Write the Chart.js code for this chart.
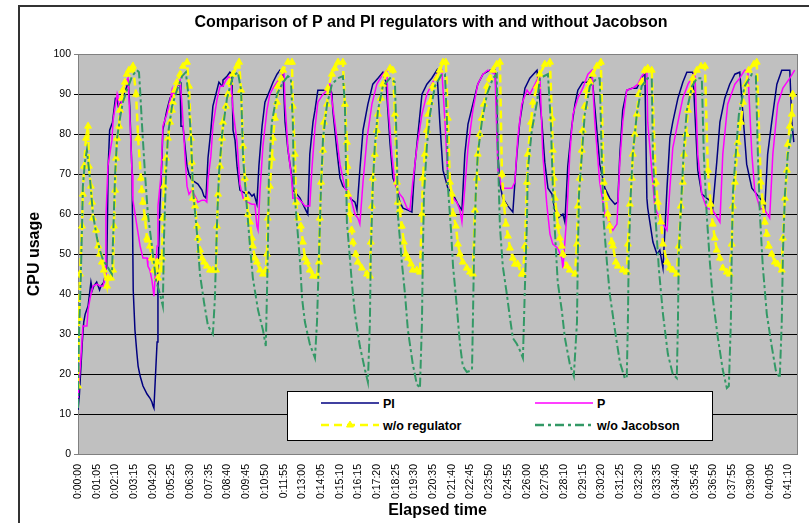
<!DOCTYPE html>
<html>
<head>
<meta charset="utf-8">
<script src="https://cdn.jsdelivr.net/npm/chart.js@4.4.1/dist/chart.umd.min.js"></script>
<style>
  html, body { margin: 0; padding: 0; background: #fff; overflow: hidden; }
  #wrap { position: relative; width: 809px; height: 523px; overflow: hidden; }
  #chart { position: absolute; left: 0; top: 0; }
  #legend { position: absolute; left: 287px; top: 391px; }
</style>
</head>
<body>
<div id="wrap">
  <canvas id="chart" width="842" height="523" style="width:842px;height:523px"></canvas>
  <svg id="legend" width="427" height="51" xmlns="http://www.w3.org/2000/svg"></svg>
</div>
<script>
const FONT = '"Liberation Sans", Arial, sans-serif';
const chartTitle = 'Comparison of P and PI regulators with and without Jacobson';
const xTitle = 'Elapsed time';
const yTitle = 'CPU usage';
const seriesNames = ['PI', 'P', 'w/o regulator', 'w/o Jacobson'];

// tick labels along the time axis, one every 65 s
const TICK_STEP = 65;
const tickLabels = ['0:00:00','0:01:05','0:02:10','0:03:15','0:04:20','0:05:25','0:06:30','0:07:35',
  '0:08:40','0:09:45','0:10:50','0:11:55','0:13:00','0:14:05','0:15:10','0:16:15','0:17:20','0:18:25',
  '0:19:30','0:20:35','0:21:40','0:22:45','0:23:50','0:24:55','0:26:00','0:27:05','0:28:10','0:29:15',
  '0:30:20','0:31:25','0:32:30','0:33:35','0:34:40','0:35:45','0:36:50','0:37:55','0:39:00','0:40:05','0:41:10'];

// [elapsed seconds, CPU usage]
const piPoints = [[0,11],[5,15],[15,28],[20,33],[25,35],[35,37],[45,43],[50,41],[55,42],[65,43],[70,42],[75,41],[80,42],[90,43],[95,45],[100,47],
  [105,72],[110,81],[120,83],[130,89],[135,89],[140,87],[150,88],[160,90],[170,92],[175,93],
  [180,87],[188,70],[192,41],[198,31],[205,25],[209,22],[216,19.5],[226,17],[240,15],[250,14],[257,13],[261,12],[264,11.5],
  [275,28],[278,45],[285,62],[292,74],[295,81],[309,86],[320,89],[330,90],[344,92],[355,93],
  [358,82],[365,82],[372,77],[379,72],[386,70],[396,68.5],[407,68],[417,67.5],[431,66],[438,64.5],[445,64],
  [452,74],[462,81],[469,87],[483,91],[490,93],[501,92],[504,93.5],[518,94.5],[528,95.5],[535,95],
  [539,81],[546,78.5],[553,72],[563,66],[574,65.5],[587,65],[594,65.5],[605,64.5],[612,65],[622,62.5],
  [629,72],[640,82],[650,88],[667,91],[678,93],[692,95],[702,96],[713,95],
  [720,83],[730,76],[744,69],[747,66],[761,65],[772,64],[782,62.5],[799,60],
  [806,75],[817,83],[824,86],[834,91],[848,91],[859,91],[876,92],[883,90],
  [886,86],[900,76],[911,69],[921,67],[935,66],[945,64],[963,63],[970,61],
  [980,71],[991,81],[1008,87.5],[1025,92.5],[1043,94],[1060,95.5],
  [1071,93],[1085,77.5],[1095,69],[1109,66.5],[1119,63],[1130,61.5],[1147,61],[1161,60.5],
  [1171,72],[1182,80],[1196,90],[1213,92.5],[1230,94],[1248,96],
  [1258,83],[1269,71],[1286,66.5],[1304,65],[1321,62.5],[1335,61],
  [1345,75],[1356,82.5],[1373,87.5],[1390,92.5],[1408,95],[1432,96],[1450,96],
  [1456,87.5],[1460,75],[1467,67.5],[1477,64],[1495,62],[1512,60.5],
  [1526,75],[1536,83],[1554,91.5],[1571,94],[1596,96],
  [1613,83],[1623,73],[1634,66.5],[1648,65],[1658,61],[1668,59],[1686,60],[1693,58],
  [1703,72],[1717,82],[1728,87.5],[1738,91],[1755,93],[1773,93],[1787,95],
  [1804,81],[1814,72.5],[1832,66.5],[1849,64],[1867,62.5],[1877,63],
  [1884,75],[1894,86],[1908,91],[1926,91.5],[1943,91.5],[1960,94],[1971,95.5],
  [1978,64],[1981,61.5],[1999,53],[2013,50],[2023,51],[2034,46.5],
  [2048,66.5],[2058,79],[2068,83],[2086,89],[2103,93],[2117,95.5],[2138,95.5],
  [2155,71],[2169,65],[2186,64],[2204,63],[2207,61.5],
  [2221,73],[2232,83],[2249,89],[2266,92.5],[2284,95],[2301,95.5],
  [2325,72.5],[2343,66.5],[2360,65],[2371,64],[2381,63],[2388,61.5],
  [2398,75],[2412,83],[2430,92.5],[2447,96],[2468,96],[2475,96],[2482,83],[2489,78]];

const pPoints = [[0,14],[10,24],[17,32],[31,32],[35,36],[42,39],[52,42],[66,42.5],[76,42],[87,42],[94,44],
  [97,59],[104,72],[118,78.5],[122,83.5],[136,90],[139,89],[146,85],[156,91],[170,93.5],[174,94],
  [181,83],[188,70],[191,63.5],[205,57],[216,52],[226,49],[240,49],[243,47],[250,46],[257,43.5],[264,39.5],
  [275,52],[278,62],[289,70],[295,82],[309,85],[320,88.5],[327,91],[330,89],[344,92],[355,93.5],
  [362,87],[372,74.5],[379,67],[386,65],[396,66],[407,64.5],[417,63],[431,63.5],[441,63.5],[448,63],
  [452,68.5],[462,74.5],[469,82],[483,88.5],[494,92],[504,92],[514,93.5],[525,94.5],[532,93],
  [539,86],[553,78],[563,67.5],[574,64],[587,63],[605,62.5],[615,62.5],[622,57],[626,56],
  [633,66],[643,77],[657,86],[667,90],[678,91.5],[692,93],[709,95],[716,96],
  [720,87.5],[730,76.5],[744,68],[747,64],[765,64],[779,63],[789,62],[806,62],
  [813,71],[824,81.5],[834,88],[852,90],[866,91],[876,92.5],
  [893,83],[911,72.5],[928,66.5],[945,65],[963,60],[973,59],[980,57.5],
  [991,68],[1005,79],[1022,87.5],[1039,92.5],[1060,95],[1074,96],
  [1078,87.5],[1091,75],[1102,67.5],[1119,65],[1130,64],[1144,61.5],[1154,61],
  [1164,68],[1178,76.5],[1196,85],[1213,90],[1230,92.5],[1248,95],[1265,96],
  [1276,83],[1286,69],[1304,64],[1317,63],[1328,61],[1335,58],
  [1345,66.5],[1356,76.5],[1373,86],[1390,92.5],[1408,95],[1425,96],[1450,95],
  [1460,71],[1474,66.5],[1491,66.5],[1509,66.5],[1519,68],
  [1529,79],[1543,87.5],[1561,91],[1571,90],[1589,92.5],[1606,95],
  [1616,75],[1630,62.5],[1641,55],[1651,52.5],[1668,51.5],[1682,49],[1686,46.5],
  [1700,60],[1710,75],[1721,85],[1738,89],[1755,91.5],[1773,95],[1787,96],
  [1797,83],[1814,68],[1832,60],[1849,58],[1860,56],[1874,57.5],
  [1884,73],[1894,83],[1908,91],[1929,91.5],[1947,92.5],[1960,94.5],[1978,96],
  [1981,83],[1995,71],[2006,61.5],[2016,60],[2030,58],[2048,56],
  [2058,66.5],[2068,76.5],[2086,83],[2103,89],[2121,92.5],[2145,95.5],
  [2155,75],[2169,65],[2186,61.5],[2207,61],[2232,58],
  [2242,75],[2259,87.5],[2284,92.5],[2301,94],[2318,96],[2329,96],
  [2343,75],[2353,66],[2371,61.5],[2388,61],[2405,59],
  [2416,75],[2433,87.5],[2451,91.5],[2475,94],[2492,96]];

const noRegPoints = [[0,17],[3,34],[7,45],[14,57],[17,65],[21,72],[28,79],[35,82],[38,72],[45,67],[49,63],[52,59],[63,56],[70,52],[76,50],[83,48],[90,46],[101,42],[104,44],[115,44],[122,46],
  [125,57],[129,66],[132,74],[136,79],[143,82],[146,86],[153,89],[156,91],[163,93],[170,95],[177,96],[188,96.5],[191,97],
  [202,90],[209,79],[219,69],[222,66],[226,63],[233,59],[240,54],[243,53.5],[250,52],[257,49],[264,46],[275,48],[278,44],[289,46],
  [292,49],[295,59],[299,67],[306,74],[313,79],[320,83],[327,86],[330,88],[337,91],[344,93],[355,95],[365,97],[379,98],
  [386,92],[393,79],[396,73],[400,64],[407,62],[414,57],[417,54],[424,51],[431,49],[438,48],[448,47],[459,46],[469,46],[480,46],
  [483,57],[487,65],[494,72],[501,79],[504,83],[514,87],[521,90],[528,93],[539,95],[553,97],[560,98],
  [567,91],[574,77],[580,69],[587,64],[591,60],[598,58],[605,54],[608,52],[615,49],[622,48],[633,46],[643,45],[653,46],
  [657,50],[660,59],[667,67],[674,74],[678,79],[685,84],[692,88],[695,92],[706,94],[713,96],[730,98],[744,98],
  [747,87],[754,75],[758,63],[765,59],[775,57],[782,53],[789,49],[796,48],[806,46],[817,44.5],[831,44.5],
  [838,48],[841,59],[845,68],[852,76],[855,83],[866,87.5],[869,91.5],[883,95],[893,96.5],[904,98],[921,98],
  [928,87.5],[935,78],[937,72],[939,65],[945,60],[952,56],[956,53],[966,50],[973,48],[987,46.5],[1005,45],[1015,44.5],
  [1018,53],[1022,62],[1025,69],[1032,75],[1039,81],[1043,85],[1053,89],[1060,92.5],[1071,95],[1085,96.5],[1095,96],
  [1102,85],[1109,68],[1112,63],[1119,61],[1126,57],[1133,53],[1140,50],[1147,49],[1158,47.5],[1164,46],[1178,46],[1189,45.5],
  [1196,60],[1199,69],[1206,75],[1213,81],[1217,85],[1224,88],[1234,92],[1248,94],[1258,96],[1269,98],[1279,98],
  [1286,84],[1293,68],[1300,65],[1304,60],[1314,57],[1321,52.5],[1328,50],[1338,48],[1352,46.5],[1363,45.5],[1373,45],
  [1380,61],[1387,69],[1390,75],[1397,80],[1404,84],[1411,87.5],[1422,92],[1432,94],[1443,96],[1456,97.5],[1467,98],
  [1474,70],[1481,62.5],[1488,57.5],[1495,54.5],[1502,51.5],[1512,49],[1519,47.5],[1529,47.5],[1543,45],[1547,45],
  [1554,52],[1561,68],[1564,75],[1575,83],[1582,88],[1596,92],[1606,95],[1623,97.5],[1641,98],
  [1648,84],[1651,76],[1655,69],[1658,64],[1665,60],[1668,57],[1675,54],[1682,52],[1686,50],[1700,47],[1710,46],[1728,45],
  [1735,52.5],[1738,62],[1745,69],[1752,76],[1755,81],[1762,87],[1769,91],[1780,93],[1790,95],[1804,97],[1818,98],
  [1828,68],[1835,64],[1842,60],[1849,57],[1856,53],[1860,52],[1870,48],[1877,47],[1894,46],[1908,45.5],
  [1912,52.5],[1919,62.5],[1926,69],[1929,75],[1936,80],[1943,85],[1950,90],[1960,93],[1971,96],[1981,96.5],[1995,96],
  [2009,68],[2016,63],[2027,58],[2034,52.5],[2048,48],[2058,46.5],[2068,46],[2082,45],
  [2089,52],[2096,62],[2103,68],[2107,75],[2114,80],[2121,86],[2131,91],[2138,94],[2152,96],[2166,97],[2180,97],
  [2190,71],[2200,62.5],[2207,57.5],[2214,54],[2221,51],[2232,49],[2242,46.5],[2256,45.5],[2266,45],
  [2273,52.5],[2277,62],[2284,68],[2291,75],[2294,78],[2305,83],[2312,88],[2322,92.5],[2332,96],[2350,97.5],[2360,98],
  [2374,68],[2381,63],[2388,58],[2395,55],[2402,52],[2412,50],[2423,48],[2433,47.5],[2447,46],
  [2451,54],[2458,64],[2465,71],[2468,77.5],[2475,82],[2482,85],[2485,90]];

const noJacPoints = [[0,11.5],[3,28.5],[10,45],[14,57],[17,67],[24,73],[31,76],[42,68.5],[52,60],[66,54],[76,51],[87,48.5],[101,47],[118,45],
  [122,54],[129,70],[136,79],[146,84],[156,88],[170,91],[188,94.5],[205,96],[212,95.5],
  [216,91],[222,83],[233,70],[243,60],[257,52],[271,43.5],[285,40],[295,37],
  [299,54],[306,70],[313,80],[327,87],[344,91],[362,94.5],[375,95.5],
  [382,91],[393,79],[400,66],[414,55],[424,45],[438,38],[452,32],[469,30],
  [476,39],[483,57],[490,70],[501,80],[518,89],[539,94.5],[556,95.5],
  [567,91],[574,74],[587,62],[598,52],[608,44],[626,36],[643,31],[653,27],
  [660,50],[664,71],[674,83],[692,90],[713,93],[730,94.5],[740,94],
  [747,83],[751,67],[761,58],[772,48],[779,39],[789,33],[806,27.5],[824,24],
  [831,33],[838,50],[845,67],[852,79],[866,87.5],[883,92.5],[904,94],[921,94.5],
  [928,87.5],[932,71],[935,58],[942,52],[952,43],[963,35],[980,27],[998,21],[1008,18],
  [1015,33],[1018,50],[1025,67],[1032,77],[1043,86],[1060,92],[1085,94],[1102,93],
  [1109,75],[1112,60],[1126,48],[1137,40],[1147,31],[1164,22.5],[1178,17.5],[1189,16.5],
  [1196,33],[1199,50],[1203,65],[1213,77],[1224,85],[1241,92],[1265,95],[1276,95],
  [1283,83],[1286,67],[1297,56],[1304,47],[1317,37],[1328,27.5],[1338,22],[1352,20.5],[1370,21],
  [1373,33],[1377,50],[1383,65],[1390,75],[1404,83],[1422,90],[1443,94],[1456,95],
  [1460,75],[1467,57],[1477,47],[1491,40],[1502,34],[1512,29],[1526,27.5],[1536,26],[1547,24],
  [1554,42],[1561,58],[1564,71],[1578,81],[1596,88],[1606,94],[1634,95],
  [1644,83],[1651,67],[1658,56],[1668,43],[1682,36],[1693,29],[1710,22.5],[1724,19.5],
  [1735,33],[1738,50],[1742,65],[1752,75],[1762,85],[1780,92],[1804,94],[1814,94],
  [1821,75],[1828,58],[1839,48],[1849,40],[1867,31],[1884,23],[1901,19],[1908,19],
  [1912,33],[1915,50],[1922,65],[1929,75],[1943,85],[1960,92],[1981,94],[1995,94],
  [1999,75],[2009,58],[2020,46],[2034,35],[2051,25],[2068,20],[2082,19],
  [2086,33],[2089,50],[2100,67],[2107,77],[2117,86],[2135,92],[2152,94],[2169,94],
  [2176,75],[2186,60],[2197,48],[2207,39],[2225,29],[2242,21],[2256,16.5],[2263,17],
  [2270,33],[2273,50],[2277,65],[2287,75],[2298,85],[2318,92],[2343,95],[2357,94.5],
  [2364,75],[2371,60],[2381,47],[2395,35],[2412,27],[2426,21],[2440,19],
  [2447,33],[2451,50],[2458,65],[2468,75],[2485,82]];

const toXY = pts => pts.map(([x, y]) => ({ x, y }));

// grey plot background and the outer frame of the chart object
const frame = {
  id: 'frame',
  beforeDraw(chart) {
    const { ctx, chartArea: a } = chart;
    ctx.save();
    ctx.fillStyle = '#C0C0C0';
    ctx.fillRect(a.left, a.top, a.right - a.left, a.bottom - a.top);
    ctx.restore();
  },
  afterDraw(chart) {
    const ctx = chart.ctx;
    ctx.save();
    ctx.strokeStyle = '#333';
    ctx.lineWidth = 2;
    ctx.beginPath();
    ctx.moveTo(19, chart.height);
    ctx.lineTo(19, 6);
    ctx.lineTo(chart.width, 6);
    ctx.stroke();
    ctx.restore();
  }
};

const gridColor = c => (c.tick && (c.tick.value === 100 || c.tick.value === 0)) ? '#808080' : '#000';

new Chart(document.getElementById('chart'), {
  type: 'line',
  data: {
    datasets: [
      { label: seriesNames[0], data: toXY(piPoints), borderColor: '#000080', borderWidth: 1.5,
        pointRadius: 0, tension: 0, order: 4 },
      { label: seriesNames[1], data: toXY(pPoints), borderColor: '#FF00FF', borderWidth: 1.5,
        pointRadius: 0, tension: 0, order: 3 },
      { label: seriesNames[2], data: toXY(noRegPoints), borderColor: '#FFFF00', borderWidth: 2.5,
        borderDash: [8, 4], pointStyle: 'triangle', pointRadius: 4, pointBorderWidth: 1,
        pointBackgroundColor: '#FFFF00', pointBorderColor: '#FFFF00', tension: 0, order: 2 },
      { label: seriesNames[3], data: toXY(noJacPoints), borderColor: '#339966', borderWidth: 2,
        borderDash: [9, 3, 3, 3], pointRadius: 0, tension: 0, order: 1 }
    ]
  },
  options: {
    responsive: false,
    animation: false,
    events: [],
    layout: { padding: { left: 20, right: 0, top: 0, bottom: 0 } },
    plugins: {
      legend: { display: false },
      tooltip: { enabled: false },
      title: {
        display: true, text: chartTitle, color: '#000',
        font: { family: FONT, size: 16, weight: 'bold' },
        padding: { top: 13, bottom: 22 }
      }
    },
    scales: {
      x: {
        type: 'linear', min: 0, max: 2500,
        afterBuildTicks: s => { s.ticks = tickLabels.map((_, i) => ({ value: i * TICK_STEP })); },
        afterFit: s => { s.height = 69; },
        grid: { display: false },
        border: { color: '#808080', width: 1 },
        ticks: {
          autoSkip: false, maxRotation: 90, minRotation: 90, padding: 2, color: '#000',
          font: { family: FONT, size: 10.5 },
          callback: (v, i) => tickLabels[i]
        },
        title: {
          display: true, text: xTitle, color: '#000',
          font: { family: FONT, size: 16, weight: 'bold' },
          padding: { top: 0, bottom: 3 }
        }
      },
      y: {
        min: 0, max: 100,
        afterFit: s => { s.width = 58; },
        ticks: { stepSize: 10, padding: 3, color: '#000', font: { family: FONT, size: 10.5 } },
        grid: { color: gridColor, tickLength: 4, lineWidth: 1 },
        border: { color: '#808080', width: 1 },
        title: {
          display: true, text: yTitle, color: '#000',
          font: { family: FONT, size: 16, weight: 'bold' },
          padding: { top: 5, bottom: 0 }
        }
      },
      y2: {
        position: 'right', min: 0, max: 100,
        afterFit: s => { s.width = 45; },
        ticks: { display: false },
        grid: { drawOnChartArea: false, drawTicks: false },
        border: { color: '#808080', width: 1 }
      }
    }
  },
  plugins: [frame]
});

// legend box drawn inside the plot, two columns
(function buildLegend() {
  const svg = document.getElementById('legend');
  const ns = 'http://www.w3.org/2000/svg';
  const add = (tag, attrs, text) => {
    const el = document.createElementNS(ns, tag);
    for (const k in attrs) el.setAttribute(k, attrs[k]);
    if (text) el.textContent = text;
    svg.appendChild(el);
    return el;
  };
  add('rect', { x: 0.5, y: 0.5, width: 425, height: 49, fill: '#fff', stroke: '#000', 'stroke-width': 1 });
  const items = [
    { name: seriesNames[0], x: 34, y: 12, stroke: '#000080', width: 1.5 },
    { name: seriesNames[1], x: 248, y: 12, stroke: '#FF00FF', width: 1.5 },
    { name: seriesNames[2], x: 34, y: 34, stroke: '#FFFF00', width: 2.5, dash: '8,5', marker: true },
    { name: seriesNames[3], x: 248, y: 34, stroke: '#339966', width: 2.5, dash: '9,4,3,4' }
  ];
  items.forEach(it => {
    const line = { x1: it.x, y1: it.y, x2: it.x + 58, y2: it.y, stroke: it.stroke, 'stroke-width': it.width };
    if (it.dash) line['stroke-dasharray'] = it.dash;
    add('line', line);
    if (it.marker) {
      const cx = it.x + 29, cy = it.y;
      add('polygon', { points: `${cx},${cy - 4} ${cx + 3.5},${cy + 2} ${cx - 3.5},${cy + 2}`, fill: '#FFFF00', stroke: '#FFFF00' });
    }
    add('text', { x: it.x + 62, y: it.y + 4.5, 'font-family': 'Liberation Sans, Arial, sans-serif',
      'font-size': 12.5, 'font-weight': 'bold', fill: '#000' }, it.name);
  });
})();
</script>
</body>
</html>
